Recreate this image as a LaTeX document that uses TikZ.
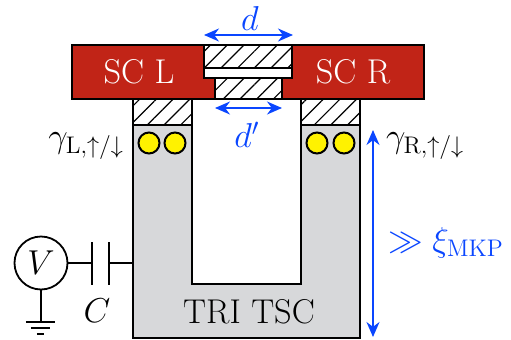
\documentclass[tikz,border=0pt]{standalone}
\usetikzlibrary{arrows.meta,patterns.meta}
\definecolor{scred}{HTML}{C12417}
\definecolor{tscgray}{HTML}{D7D8DA}
\definecolor{lenblue}{HTML}{0A46FF}
\newcommand{\biglabel}{\fontsize{17.2}{20}\selectfont}
\newcommand{\modelabel}{\fontsize{18.6}{22}\selectfont}
\tikzset{
    wall/.style={draw=black, line width=1pt},
    hatched/.style={wall, fill=white, postaction={pattern={Lines[angle=45, distance=5.9pt, line width=0.6pt]}}},
    mode/.style={circle, draw=black, line width=1pt, fill=yellow, minimum size=10.5pt, inner sep=0pt},
    wire/.style={line width=0.9pt},
    span/.style={lenblue, line width=0.9pt, {Stealth[length=7.5pt, width=6.5pt]}-{Stealth[length=7.5pt, width=6.5pt]}},
}
\begin{document}
\begin{tikzpicture}[x=0.5pt, y=-0.5pt, font=\biglabel]
    \useasboundingbox (0, 0) rectangle (511, 339);

    % TSC island
    \draw[wall, fill=tscgray] (133, 125) -- (192, 125) -- (192, 284) -- (301, 284) -- (301, 125)
        -- (360, 125) -- (360, 338) -- (133, 338) -- cycle;
    \node (tsc) at (249, 312) {TRI TSC};

    % Superconductors
    \draw[wall, fill=scred] (72, 45) rectangle (424, 99);
    \node[text=white] (scl) at (139, 72) {SC L};
    \node[text=white] (scr) at (353, 72) {SC R};

    % Tunnel barriers
    \draw[wall, fill=white] (204, 45) rectangle (292, 78);
    \draw[hatched] (204, 45) rectangle (292, 68);
    \draw[hatched] (215, 78) rectangle (282, 99);
    \draw[hatched] (133, 99) rectangle (192, 125);
    \draw[hatched] (301, 99) rectangle (360, 125);

    % Majorana modes
    \node[mode] (gl1) at (149, 143) {};
    \node[mode] (gl2) at (175, 143) {};
    \node[mode] (gr1) at (317, 143) {};
    \node[mode] (gr2) at (344, 143) {};
    \node[anchor=east, font=\modelabel] (gl) at (131, 146) {$\gamma_{\mathrm{L},\uparrow/\downarrow}$};
    \node[anchor=west, font=\modelabel] (gr) at (379, 146) {$\gamma_{\mathrm{R},\uparrow/\downarrow}$};

    % Lengths
    \coordinate (da) at (204, 35);
    \coordinate (db) at (293, 35);
    \coordinate (pa) at (215, 108);
    \coordinate (pb) at (282, 108);
    \coordinate (xa) at (373, 130);
    \coordinate (xb) at (373, 337);
    \draw[span] (da) -- (db);
    \draw[span] (pa) -- (pb);
    \draw[span] (xa) -- (xb);
    \node[text=lenblue] (dlab) at (250, 18) {$d$};
    \node[text=lenblue] (plab) at (247, 135) {$d'$};
    \node[text=lenblue] (xlab) at (446, 243) {$\gg\xi_{\mathrm{MKP}}$};

    % Gate circuit
    \node[circle, draw, wire, minimum size=26.5pt, inner sep=0pt] (volt) at (41, 263) {$V$};
    \coordinate (capl) at (92, 263);
    \coordinate (capr) at (109, 263);
    \coordinate (capin) at (133, 263);
    \coordinate (gnd) at (41, 322);
    \draw[wire] (volt) -- (capl);
    \draw[wire] (capr) -- (capin);
    \draw[wire] (92, 242) -- (92, 285);
    \draw[wire] (109, 242) -- (109, 285);
    \node (clab) at (97, 311) {$C$};
    \draw[wire] (volt) -- (gnd);
    \draw[wire] (26, 322) -- (55, 322);
    \draw[wire] (31, 328) -- (50, 328);
    \draw[wire] (37, 334) -- (44, 334);
\end{tikzpicture}
\end{document}
